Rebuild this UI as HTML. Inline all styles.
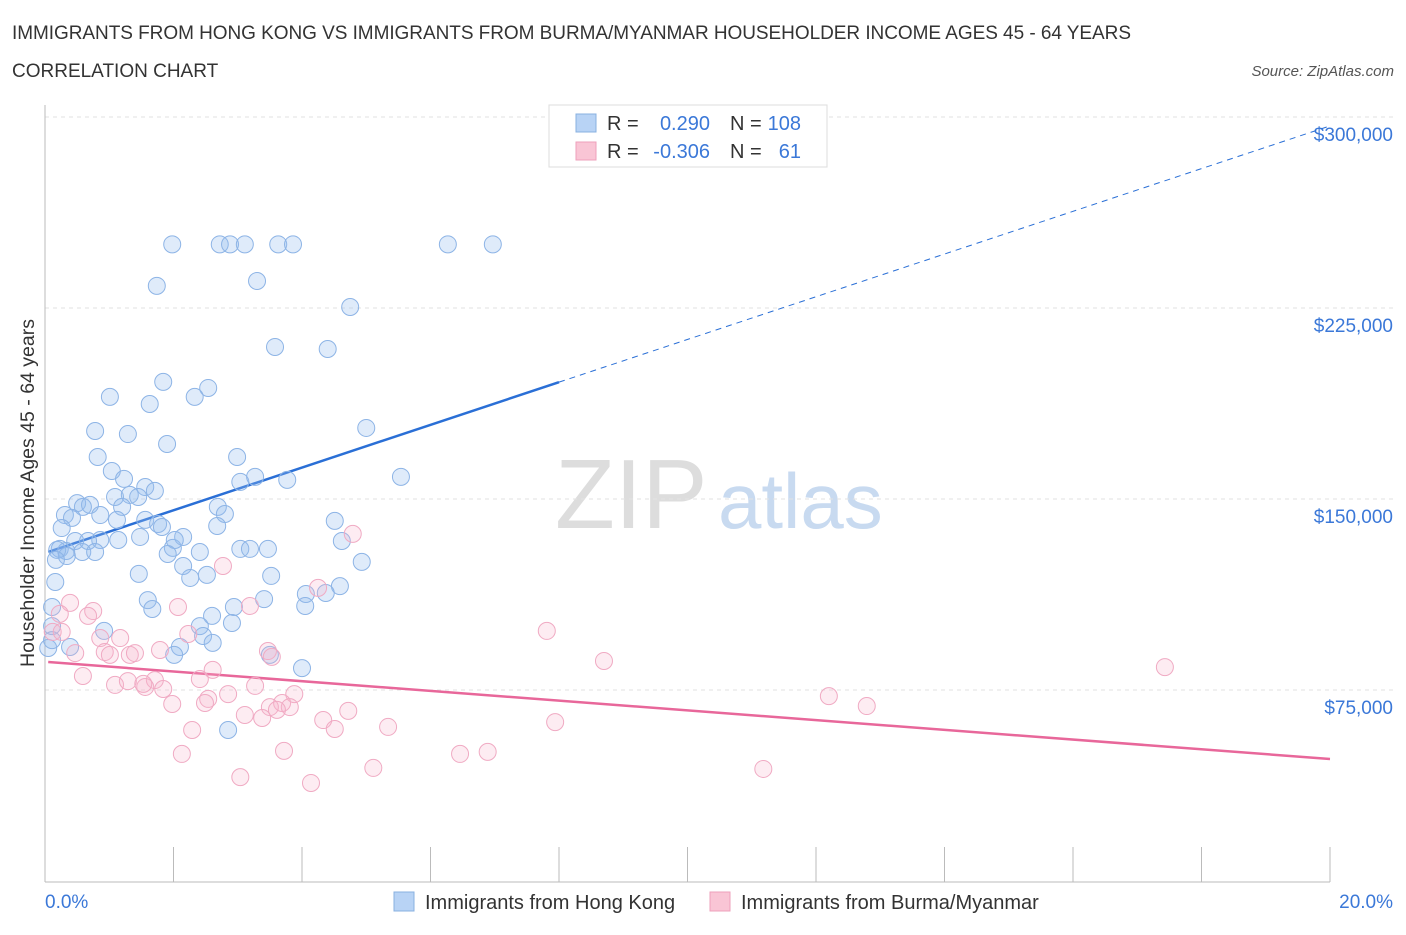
<!DOCTYPE html>
<html><head><meta charset="utf-8"><style>
body{margin:0;background:#fff;font-family:"Liberation Sans",sans-serif;}
svg text{font-family:"Liberation Sans",sans-serif;}
</style></head><body>
<svg id="chart" width="1406" height="930">
<text x="12" y="39" font-size="19" fill="#333" textLength="1119">IMMIGRANTS FROM HONG KONG VS IMMIGRANTS FROM BURMA/MYANMAR HOUSEHOLDER INCOME AGES 45 - 64 YEARS</text>
<text x="12" y="77" font-size="19" fill="#333">CORRELATION CHART</text>
<text x="1394" y="76" font-size="15" font-style="italic" fill="#555" text-anchor="end">Source: ZipAtlas.com</text>
<g>
<text x="555" y="528" font-size="98" font-family="Liberation Serif" fill="#ddd">ZIP</text>
<text x="718" y="528" font-size="78" fill="#c8daf0">atlas</text>
</g>
<g id="grid"></g>
<g id="axes"></g>
<g id="trends"></g>
<g id="pts"></g>
<text x="34" y="493" font-size="19.5" fill="#333" text-anchor="middle" transform="rotate(-90 34 493)">Householder Income Ages 45 - 64 years</text>
<g>
<rect x="549" y="105" width="278" height="62" fill="#fff" stroke="#ddd"/>
<rect x="576" y="114" width="20" height="18" fill="#b8d3f5" stroke="#88b0e0"/>
<rect x="576" y="142" width="20" height="18" fill="#f9c5d5" stroke="#eea0bb"/>
<text x="607" y="130" font-size="20" fill="#333">R =</text>
<text x="710" y="130" font-size="20" fill="#3b78d8" text-anchor="end">0.290</text>
<text x="730" y="130" font-size="20" fill="#333">N =</text>
<text x="801" y="130" font-size="20" fill="#3b78d8" text-anchor="end">108</text>
<text x="607" y="158" font-size="20" fill="#333">R =</text>
<text x="710" y="158" font-size="20" fill="#3b78d8" text-anchor="end">-0.306</text>
<text x="730" y="158" font-size="20" fill="#333">N =</text>
<text x="801" y="158" font-size="20" fill="#3b78d8" text-anchor="end">61</text>
</g>
<g>
<rect x="394" y="892" width="20" height="19" fill="#b8d3f5" stroke="#88b0e0"/>
<text x="425" y="909" font-size="20" fill="#333">Immigrants from Hong Kong</text>
<rect x="710" y="892" width="20" height="19" fill="#f9c5d5" stroke="#eea0bb"/>
<text x="741" y="909" font-size="20" fill="#333">Immigrants from Burma/Myanmar</text>
</g>
</svg>
<script>
const blueX=[1.98,2.72,2.88,3.11,3.63,3.86,6.27,6.97,1.74,3.30,4.75,3.58,4.40,1.84,2.54,1.01,2.33,1.63,0.78,1.29,5.00,1.90,0.82,2.99,1.04,1.23,1.56,1.71,3.04,3.27,3.77,5.54,0.50,0.70,0.59,1.09,1.32,1.45,2.69,2.80,1.20,0.31,0.42,0.86,1.12,1.56,1.76,1.82,2.68,4.51,0.26,0.86,1.14,1.48,1.99,2.15,2.02,0.47,0.67,0.23,0.33,0.19,0.58,0.78,0.34,0.17,0.16,1.91,2.41,3.04,3.19,3.47,4.62,4.93,2.15,2.26,2.52,1.46,3.52,4.59,4.06,4.37,3.41,1.60,1.67,2.94,4.05,2.60,2.41,2.91,2.46,2.61,0.92,2.10,2.01,3.50,4.00,2.85,0.39,0.11,0.11,0.05,0.11];
const blueY=[250,250,250,250,250,250,250,250,233.7,235.6,225.4,209.7,208.9,196.0,193.6,190.1,190.1,187.3,176.7,175.5,177.9,171.6,166.5,166.5,161.0,157.9,154.7,153.2,156.7,158.7,157.5,158.7,148.4,147.7,146.9,150.8,151.6,150.8,146.9,144.1,146.9,143.7,142.6,143.7,141.8,141.8,140.2,139.0,139.4,141.4,138.6,133.9,133.9,135.1,130.8,135.1,133.9,133.5,133.5,130.4,129.6,130.0,129.2,129.2,127.6,126.1,117.4,128.4,129.2,130.4,130.4,130.4,133.5,125.3,123.7,119.0,120.2,120.6,119.8,115.8,112.7,113.1,110.7,110.3,106.8,107.6,108.0,104.1,100.1,101.3,96.2,93.5,98.2,91.9,88.8,88.8,83.6,59.3,91.9,107.6,100.1,91.5,94.6];
const pinkX=[0.39,0.75,0.23,0.67,2.07,3.19,0.12,0.26,0.86,1.17,2.23,4.79,4.25,2.77,7.81,8.70,17.43,0.47,0.93,1.01,1.32,1.40,1.79,3.47,3.53,2.61,0.59,2.41,1.09,1.29,1.71,1.56,1.84,1.53,2.85,3.27,2.54,2.49,3.88,1.98,3.69,3.50,3.81,3.61,3.11,3.38,4.72,4.33,4.51,5.34,7.94,12.20,12.79,2.29,3.72,2.13,6.46,6.89,5.11,11.18,3.04,4.14];
const pinkY=[109.2,106.0,104.9,104.1,107.6,108.0,97.8,97.8,95.4,95.4,97.0,136.3,115.1,123.7,98.2,86.4,84.0,89.5,89.9,88.8,88.8,89.5,90.7,90.3,88.0,82.9,80.5,79.3,77.0,78.5,78.9,76.2,75.4,77.4,73.4,76.6,71.5,69.9,73.4,69.5,69.9,68.3,68.3,67.2,65.2,64.0,66.8,63.2,59.7,60.5,62.4,72.6,68.7,59.3,51.1,49.9,49.9,50.7,44.4,44.0,40.8,38.5];
const yTicks=[75,150,225,300];
const yTickLabels=["$75,000","$150,000","$225,000","$300,000"];
const xTicks=[0,2,4,6,8,10,12,14,16,18,20];
const blueTrend=[128.8,296.5];
const pinkTrend=[86.0,47.9];
const blueSolidEnd=8.0;

const NS="http://www.w3.org/2000/svg";
const X=v=>45+v/20*1285;
const Y=v=>881-v/75*191;
function mk(tag,attrs,parent){const e=document.createElementNS(NS,tag);for(const k in attrs)e.setAttribute(k,attrs[k]);parent.appendChild(e);return e;}
const grid=document.getElementById('grid'),axes=document.getElementById('axes'),trends=document.getElementById('trends'),pts=document.getElementById('pts');
yTicks.forEach((t,i)=>{
  const l=mk('line',{x1:45,x2:1395,y1:Y(t),y2:Y(t),stroke:'#e2e2e2','stroke-dasharray':'4 4'},grid);
  
  
  const tx=mk('text',{x:1393,y:Y(t)+24,'font-size':19,fill:'#3b78d8','text-anchor':'end'},axes);
  tx.textContent=yTickLabels[i];
  
  
});
const ax=mk('line',{x1:45,x2:45,y1:105,y2:882,stroke:'#bbb'},axes);


const bx=mk('line',{x1:45,x2:1330,y1:882,y2:882,stroke:'#bbb'},axes);


xTicks.forEach(t=>{if(t===0)return;
  const l=mk('line',{x1:X(t),x2:X(t),y1:847,y2:882,stroke:'#bbb'},axes);
  
  
});
const xl0=mk('text',{x:45,y:908,'font-size':19,fill:'#3b78d8'},axes);xl0.textContent=xTicks[0].toFixed(1)+'%';


const xl1=mk('text',{x:1393,y:908,'font-size':19,fill:'#3b78d8','text-anchor':'end'},axes);xl1.textContent=xTicks[xTicks.length-1].toFixed(1)+'%';



function drawPts(xs,ys,fill,stroke,name){
  for(let i=0;i<Math.min(xs.length,ys.length);i++){
    const c=mk('circle',{cx:X(xs[i]),cy:Y(ys[i]),r:8.5,fill:fill,stroke:stroke,'stroke-width':1},pts);
    
    
  }
}
drawPts(blueX,blueY,'rgba(150,190,240,0.3)','#8db4e6','point-hong-kong');
drawPts(pinkX,pinkY,'rgba(248,180,205,0.25)','#f0aac3','point-burma');
const bt=v=>blueTrend[0]+(blueTrend[1]-blueTrend[0])*v/20;
const b1=mk('line',{x1:X(0.05),y1:Y(bt(0.05)),x2:X(blueSolidEnd),y2:Y(bt(blueSolidEnd)),stroke:'#2a6fd6','stroke-width':2.5},trends);


const b2=mk('line',{x1:X(blueSolidEnd),y1:Y(bt(blueSolidEnd)),x2:X(20),y2:Y(bt(20)),stroke:'#2a6fd6','stroke-width':1,'stroke-dasharray':'6 5'},trends);


const p1=mk('line',{x1:X(0.05),y1:Y(pinkTrend[0]),x2:X(20),y2:Y(pinkTrend[1]),stroke:'#e8679a','stroke-width':2.5},trends);


</script>
</body></html>
